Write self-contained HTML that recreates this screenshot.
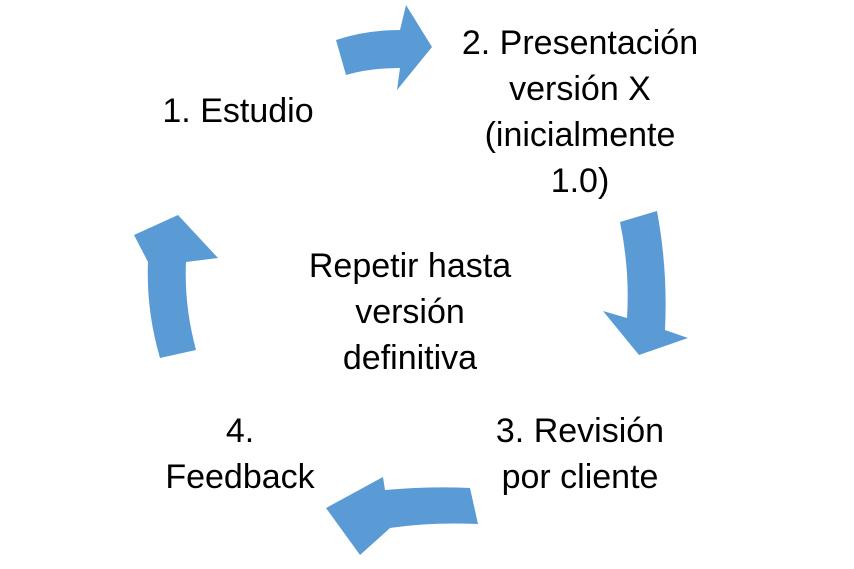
<!DOCTYPE html>
<html><head><meta charset="utf-8"><style>
body{margin:0;background:#fff;width:854px;height:569px;overflow:hidden;position:relative;font-family:"Liberation Sans",sans-serif;}
.t{position:absolute;font-size:34px;color:#000;text-align:center;line-height:46px;white-space:nowrap;}
</style></head><body>
<svg width="854" height="569" style="position:absolute;left:0;top:0">
<g fill="#5b9bd5">
<path d="M336,40 Q365,30 400,30 L406,5 L432,47 L397,90 L400,68 Q370,68 346,75 Z"/>
<path d="M620,222 L657,211 Q668,270 665,330 L688,338 L639,355 L603,311 L627,318 Q630,270 620,222 Z"/>
<path d="M478,524 Q430,522 390,528 L360,555 L326,508 L383,477 L385,490 Q430,486 470,488 Z"/>
<path d="M160,358 L196,350 Q184,305 186,262 L218,258 L178,215 L134,235 L148,262 Q146,310 160,358 Z"/>
</g></svg>
<div class="t" style="left:88px;top:88px;width:300px">1. Estudio</div>
<div class="t" style="left:430px;top:20px;width:300px">2. Presentación<br>versión X<br>(inicialmente<br>1.0)</div>
<div class="t" style="left:260px;top:243px;width:300px">Repetir hasta<br>versión<br>definitiva</div>
<div class="t" style="left:430px;top:408px;width:300px">3. Revisión<br>por cliente</div>
<div class="t" style="left:90px;top:408px;width:300px">4.<br>Feedback</div>
</body></html>
